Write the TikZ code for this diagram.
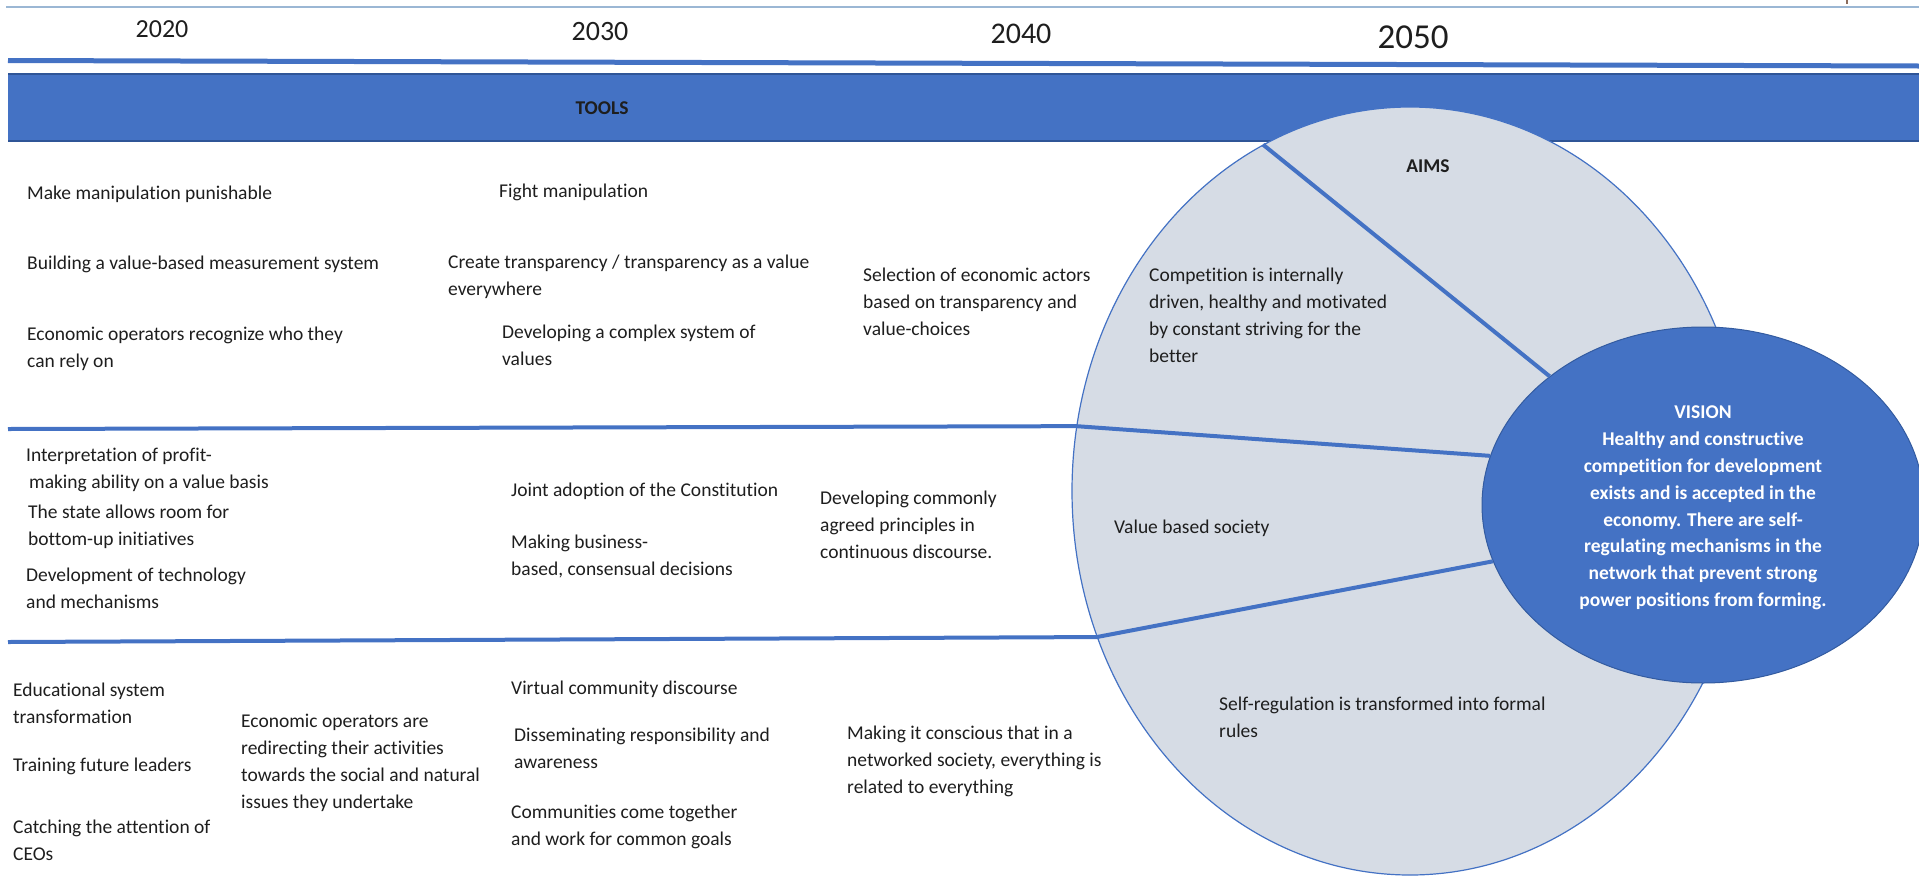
\documentclass[tikz,border=0pt]{standalone}
\usepackage{fontspec}
\setmainfont{Carlito}[Ligatures=NoCommon]
\usetikzlibrary{shapes.geometric}
\definecolor{mainblue}{HTML}{4472C4}
\definecolor{darkblue}{HTML}{2F5597}
\definecolor{lightline}{HTML}{9BB7D4}
\definecolor{aimsfill}{HTML}{D6DCE5}
\definecolor{textc}{HTML}{1E1E1E}
\definecolor{tickc}{HTML}{8B6B5B}
\newcommand\mybodyfont{\fontsize{19.5}{26.8}\selectfont}
\tikzset{
  body/.style={font=\mybodyfont, text=textc, inner sep=0pt, align=left, anchor=north west},
  headbold/.style={font=\mybodyfont\bfseries, text=textc, inner sep=0pt},
  yearlbl/.style={text=textc, inner sep=0pt},
  sepline/.style={draw=mainblue, line width=4pt, line join=round},
}
\begin{document}
\begin{tikzpicture}[x=1pt,y=-1pt]
\useasboundingbox (0,0) rectangle (1919,876);
% top thin line and tick
\coordinate (tl0) at (6,7);
\coordinate (tl1) at (1919,7);
\draw[lightline, line width=2.5pt] (tl0) -- (tl1);
\coordinate (tk0) at (1847,0);
\coordinate (tk1) at (1847,4);
\draw[tickc, line width=2.5pt] (tk0) -- (tk1);
% years
\node[yearlbl, font=\fontsize{26}{30}\selectfont] (y2020) at (162,29) {2020};
\node[yearlbl, font=\fontsize{28}{32}\selectfont] (y2030) at (600,32) {2030};
\node[yearlbl, font=\fontsize{30}{34}\selectfont] (y2040) at (1021,34) {2040};
\node[yearlbl, font=\fontsize{35}{40}\selectfont] (y2050) at (1413,37) {2050};
% blue rule under years
\coordinate (br0) at (8,60.5);
\coordinate (br1) at (1919,66);
\draw[mainblue, line width=5pt] (br0) -- (br1);
% tools band
\fill[mainblue] (8,74) rectangle (1919,141);
\draw[darkblue, line width=1.5pt] (8,74) -- (1919,74) (8,141) -- (1919,141);
\node[headbold] (tools) at (602,108) {TOOLS};
% aims ellipse
\node[ellipse, draw=mainblue, line width=1.2pt, fill=aimsfill, minimum width=676pt, minimum height=768pt, inner sep=0pt] (aims) at (1410,491) {};
% vision ellipse
\node[ellipse, draw=darkblue!80!mainblue, line width=1pt, fill=mainblue, minimum width=442pt, minimum height=356pt, inner sep=0pt] (vision) at (1703,505) {};
\node[font=\mybodyfont\bfseries, text=white, align=center, inner sep=0pt] (visiontxt) at (1703,508)
  {VISION\\Healthy and constructive\\competition for development\\exists and is accepted in the\\economy. There are self-\\regulating mechanisms in the\\network that prevent strong\\power positions from forming.};
% separator lines
\coordinate (s1) at (8,429);
\coordinate (s2) at (8,642);
\draw[sepline] (s1) -- (aims.169) -- (vision.167.1);
\draw[sepline] (s2) -- (aims.205) -- (vision.195.8);
\draw[sepline] (aims.113.85) -- (vision.140.45);
\node[headbold] (aimslbl) at (1428,166) {AIMS};
% row 1
\node[body] (t11) at (27,186) {Make manipulation punishable};
\node[body] (t12) at (27,256) {Building a value-based measurement system};
\node[body] (t13) at (27,327) {Economic operators recognize who they\\can rely on};
\node[body] (t14) at (499,184) {Fight manipulation};
\node[body] (t15) at (448,255) {Create transparency / transparency as a value\\everywhere};
\node[body] (t16) at (502,325) {Developing a complex system of\\values};
\node[body] (t17) at (863,268) {Selection of economic actors\\based on transparency and\\value-choices};
\node[body] (t18) at (1149,268) {Competition is internally\\driven, healthy and motivated\\by constant striving for the\\better};
% row 2
\node[body] (t21) at (26,448) {Interpretation of profit-\\\hspace*{3pt}making ability on a value basis};
\node[body] (t22) at (28,505) {The state allows room for\\bottom-up initiatives};
\node[body] (t23) at (26,568) {Development of technology\\and mechanisms};
\node[body] (t24) at (511,483) {Joint adoption of the Constitution};
\node[body] (t25) at (511,535) {Making business-\\based, consensual decisions};
\node[body] (t26) at (820,491) {Developing commonly\\agreed principles in\\continuous discourse.};
\node[body] (t27) at (1114,520) {Value based society};
% row 3
\node[body] (t31) at (13,683) {Educational system\\transformation};
\node[body] (t32) at (13,758) {Training future leaders};
\node[body] (t33) at (13,820) {Catching the attention of\\CEOs};
\node[body] (t34) at (241,714) {Economic operators are\\redirecting their activities\\towards the social and natural\\issues they undertake};
\node[body] (t35) at (511,681) {Virtual community discourse};
\node[body] (t36) at (514,728) {Disseminating responsibility and\\awareness};
\node[body] (t37) at (511,805) {Communities come together\\and work for common goals};
\node[body] (t38) at (847,726) {Making it conscious that in a\\networked society, everything is\\related to everything};
\node[body] (t39) at (1219,697) {Self-regulation is transformed into formal\\rules};
\end{tikzpicture}
\end{document}
